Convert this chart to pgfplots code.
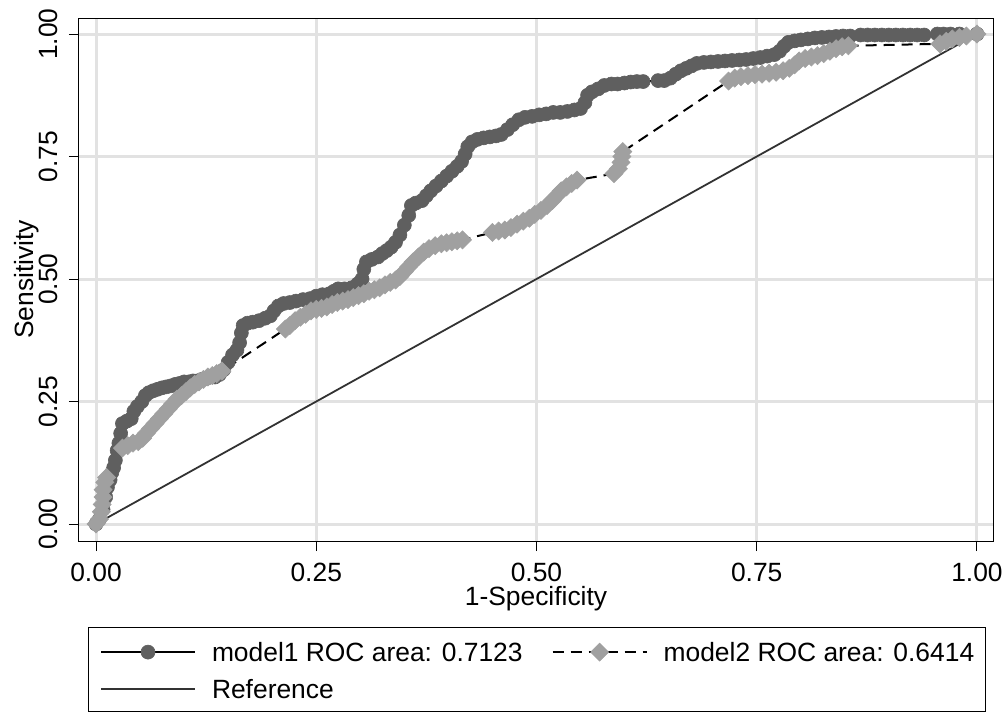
\documentclass[border=0pt]{standalone}
\usepackage{pgfplots}
\usepackage{pgfplotstable}
\usepackage{fontspec}
\setmainfont{Liberation Sans}
\pgfplotsset{compat=1.18}

\definecolor{mdark}{RGB}{95,95,95}
\definecolor{mlight}{RGB}{160,160,160}
\definecolor{gridgray}{RGB}{226,226,226}
\definecolor{refline}{RGB}{50,50,50}

\newcommand{\chartfont}{\fontsize{13.2}{15.8}\selectfont}

% model1: 1-specificity vs sensitivity
\pgfplotstableread{
x y
0.000 0.000
0.004 0.010
0.008 0.030
0.011 0.055
0.013 0.075
0.016 0.090
0.018 0.105
0.020 0.115
0.022 0.130
0.024 0.150
0.026 0.165
0.028 0.185
0.030 0.205
0.035 0.210
0.040 0.215
0.043 0.230
0.047 0.240
0.052 0.250
0.056 0.262
0.060 0.268
0.065 0.272
0.070 0.275
0.075 0.278
0.080 0.280
0.085 0.282
0.090 0.285
0.095 0.287
0.100 0.290
0.105 0.290
0.110 0.292
0.115 0.292
0.120 0.295
0.125 0.297
0.130 0.300
0.135 0.300
0.140 0.305
0.145 0.315
0.150 0.330
0.155 0.345
0.160 0.355
0.163 0.370
0.165 0.390
0.167 0.405
0.172 0.410
0.178 0.412
0.185 0.415
0.192 0.420
0.198 0.425
0.202 0.435
0.207 0.445
0.213 0.450
0.220 0.452
0.227 0.455
0.235 0.458
0.243 0.460
0.250 0.465
0.257 0.468
0.265 0.470
0.270 0.475
0.275 0.480
0.282 0.480
0.290 0.482
0.297 0.490
0.302 0.500
0.304 0.520
0.307 0.535
0.313 0.540
0.320 0.545
0.325 0.552
0.330 0.558
0.335 0.565
0.340 0.575
0.345 0.590
0.350 0.610
0.355 0.630
0.358 0.650
0.363 0.655
0.370 0.660
0.375 0.670
0.380 0.680
0.386 0.690
0.392 0.700
0.398 0.710
0.404 0.720
0.410 0.730
0.415 0.740
0.419 0.755
0.422 0.770
0.427 0.780
0.433 0.785
0.440 0.788
0.447 0.790
0.454 0.792
0.460 0.795
0.467 0.805
0.473 0.815
0.480 0.825
0.487 0.830
0.495 0.832
0.503 0.835
0.511 0.837
0.519 0.840
0.527 0.840
0.535 0.842
0.543 0.845
0.550 0.848
0.555 0.860
0.558 0.875
0.563 0.882
0.570 0.888
0.577 0.895
0.585 0.898
0.592 0.898
0.600 0.900
0.607 0.902
0.614 0.903
0.621 0.903
0.638 0.905
0.645 0.905
0.652 0.910
0.658 0.918
0.664 0.925
0.670 0.930
0.676 0.935
0.682 0.940
0.690 0.942
0.698 0.943
0.706 0.944
0.714 0.945
0.722 0.946
0.730 0.947
0.738 0.948
0.746 0.950
0.754 0.952
0.762 0.955
0.770 0.958
0.776 0.965
0.781 0.975
0.786 0.983
0.793 0.986
0.800 0.988
0.808 0.990
0.816 0.992
0.824 0.993
0.832 0.994
0.840 0.995
0.848 0.996
0.856 0.996
0.868 0.998
0.876 0.998
0.884 0.998
0.892 0.998
0.900 0.998
0.908 0.998
0.916 0.998
0.924 0.998
0.932 0.998
0.940 0.998
0.955 1.000
0.962 1.000
0.970 1.000
0.980 1.000
1.000 1.000
}\modelone

% model2
\pgfplotstableread{
x y
0.000 0.000
0.004 0.010
0.006 0.025
0.007 0.040
0.008 0.055
0.008 0.070
0.010 0.085
0.012 0.095
0.030 0.155
0.036 0.160
0.042 0.165
0.048 0.168
0.053 0.175
0.057 0.185
0.062 0.195
0.067 0.205
0.072 0.215
0.077 0.225
0.082 0.235
0.087 0.245
0.092 0.255
0.097 0.262
0.102 0.270
0.107 0.278
0.112 0.285
0.117 0.290
0.122 0.295
0.127 0.300
0.132 0.303
0.137 0.307
0.143 0.312
0.215 0.398
0.220 0.405
0.226 0.415
0.232 0.422
0.238 0.428
0.244 0.435
0.250 0.438
0.256 0.440
0.262 0.443
0.268 0.448
0.274 0.452
0.280 0.455
0.286 0.458
0.292 0.462
0.298 0.466
0.304 0.470
0.310 0.475
0.316 0.478
0.322 0.482
0.328 0.488
0.334 0.493
0.340 0.498
0.345 0.505
0.350 0.515
0.355 0.525
0.360 0.535
0.366 0.545
0.372 0.555
0.378 0.562
0.385 0.568
0.392 0.572
0.398 0.574
0.404 0.576
0.410 0.578
0.416 0.580
0.450 0.595
0.457 0.598
0.464 0.600
0.471 0.605
0.478 0.612
0.485 0.618
0.492 0.624
0.498 0.632
0.505 0.640
0.512 0.650
0.518 0.660
0.523 0.670
0.528 0.680
0.534 0.688
0.540 0.695
0.546 0.702
0.588 0.715
0.593 0.725
0.596 0.738
0.597 0.750
0.598 0.760
0.718 0.904
0.725 0.910
0.732 0.913
0.740 0.915
0.748 0.917
0.756 0.918
0.764 0.920
0.772 0.922
0.780 0.925
0.787 0.930
0.793 0.937
0.798 0.945
0.805 0.950
0.812 0.953
0.819 0.956
0.826 0.960
0.833 0.965
0.840 0.970
0.847 0.974
0.854 0.976
0.958 0.980
0.965 0.985
0.972 0.990
0.980 0.993
0.988 0.996
1.000 1.000
}\modeltwo

\begin{document}
\begin{tikzpicture}
\useasboundingbox (-39.5pt,-86pt) rectangle (462.5pt,270.5pt);
\begin{axis}[
    at={(0,0)}, anchor=south west,
    scale only axis,
    width=457pt, height=261.5pt,
    xmin=-0.0193, xmax=1.0182,
    ymin=-0.0347, ymax=1.0327,
    axis line style={line width=0.5pt},
    xtick={0,0.25,0.5,0.75,1},
    ytick={0,0.25,0.5,0.75,1},
    xticklabels={0.00,0.25,0.50,0.75,1.00},
    yticklabels={0.00,0.25,0.50,0.75,1.00},
    xtick pos=lower, ytick pos=left,
    tick align=outside,
    major tick length=5pt,
    tick style={line width=0.5pt, black},
    tick label style={font=\chartfont},
    xticklabel style={anchor=base},
    yticklabel style={rotate=90, anchor=base},
    xticklabel shift=15pt,
    yticklabel shift=5.5pt,
    grid=major,
    major grid style={line width=1.5pt, draw=gridgray},
    xlabel={1-Specificity},
    ylabel={Sensitivity},
    every axis x label/.style={at={(axis description cs:0.5,-0.1224)}, anchor=base, font=\chartfont},
    every axis y label/.style={at={(axis description cs:-0.0503,0.5)}, rotate=90, anchor=base, font=\chartfont},
    legend columns=2,
    legend style={
        at={(axis description cs:0.01094,-0.16444)}, anchor=north west,
        draw=black, line width=0.5pt, outer sep=0pt,
        inner xsep=5.5pt, inner ysep=3.3pt,
        font=\chartfont,
        nodes={inner sep=0pt, anchor=base west, text height=9.5pt, text depth=3pt},
        column sep=8pt, row sep=6pt,
        /tikz/every even column/.append style={column sep=14.5pt},
        /tikz/row 1/.style={nodes={text height=13.9pt}},
    },
    legend image code/.code={
        \draw[mark repeat=2, mark phase=2, #1] plot coordinates {(0pt,4.65pt) (23.5pt,4.65pt) (47pt,4.65pt)};
    },
]
\addplot[black, line width=1pt, mark=*, mark size=3.5pt,
    mark options={solid, fill=mdark, draw=mdark, line width=0.3pt}]
    table[x=x, y=y] {\modelone};
\addlegendentry{model1 ROC area: 0.7123}

\addplot[black, line width=1pt, dash pattern=on 5.5pt off 3.5pt, mark=square*, mark size=3.2pt,
    mark options={solid, rotate=45, fill=mlight, draw=mlight, line width=0.3pt}]
    table[x=x, y=y] {\modeltwo};
\addlegendentry{model2 ROC area: 0.6414}

\addplot[refline, line width=0.9pt, mark=none] coordinates {(0,0) (1,1)};
\addlegendentry{Reference}
\end{axis}
\end{tikzpicture}
\end{document}
